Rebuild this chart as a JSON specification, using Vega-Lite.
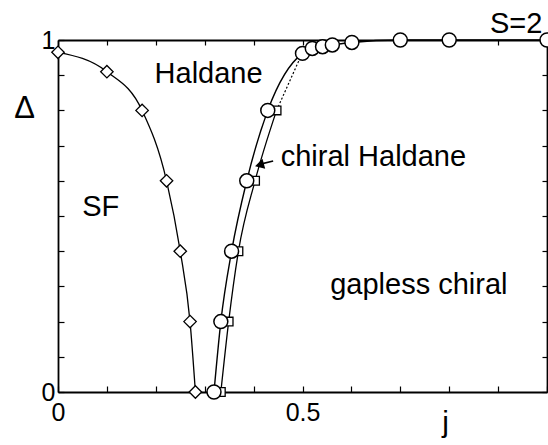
{
  "$schema": "https://vega.github.io/schema/vega-lite/v6.json",
  "width": 489,
  "height": 352,
  "autosize": {"type": "none"},
  "padding": {"left": 58, "top": 40, "right": 1, "bottom": 53},
  "background": "white",
  "config": {
    "view": {"stroke": null},
    "font": "Liberation Sans",
    "axis": {
      "grid": false,
      "domainColor": "black",
      "domainWidth": 1.8,
      "tickColor": "black",
      "tickWidth": 1.2,
      "labelColor": "black",
      "titleColor": "black",
      "labelFont": "Liberation Sans",
      "titleFont": "Liberation Sans",
      "labelFlush": false,
      "labelOverlap": false
    }
  },
  "datasets": {
    "curves": [
      {"series": "SF", "j": 0.0, "d": 0.965},
      {"series": "SF", "j": 0.1, "d": 0.91},
      {"series": "SF", "j": 0.172, "d": 0.8},
      {"series": "SF", "j": 0.222, "d": 0.6},
      {"series": "SF", "j": 0.25, "d": 0.4},
      {"series": "SF", "j": 0.27, "d": 0.2},
      {"series": "SF", "j": 0.281, "d": 0.0},
      {"series": "circle", "j": 0.319, "d": 0.0},
      {"series": "circle", "j": 0.333, "d": 0.2},
      {"series": "circle", "j": 0.355, "d": 0.4},
      {"series": "circle", "j": 0.386, "d": 0.6},
      {"series": "circle", "j": 0.429, "d": 0.8},
      {"series": "circle", "j": 0.5, "d": 0.962},
      {"series": "circle", "j": 0.52, "d": 0.976},
      {"series": "circle", "j": 0.541, "d": 0.981},
      {"series": "circle", "j": 0.561, "d": 0.986},
      {"series": "circle", "j": 0.601, "d": 0.993},
      {"series": "circle", "j": 0.7, "d": 1.0},
      {"series": "circle", "j": 0.8, "d": 1.0},
      {"series": "circle", "j": 1.0, "d": 1.0},
      {"series": "square", "j": 0.333, "d": 0.0},
      {"series": "square", "j": 0.349, "d": 0.2},
      {"series": "square", "j": 0.369, "d": 0.4},
      {"series": "square", "j": 0.403, "d": 0.6},
      {"series": "square", "j": 0.447, "d": 0.8},
      {"series": "dotted", "j": 0.447, "d": 0.8},
      {"series": "dotted", "j": 0.497, "d": 0.955}
    ],
    "labels": [
      {"text": "Haldane", "j": 0.308, "d": 0.878},
      {"text": "SF", "j": 0.0875, "d": 0.5},
      {"text": "chiral Haldane", "j": 0.645, "d": 0.642},
      {"text": "gapless chiral", "j": 0.738, "d": 0.279},
      {"text": "S=2", "j": 0.937, "d": 1.02}
    ],
    "arrow": [
      {"j": 0.44, "d": 0.656},
      {"j": 0.41, "d": 0.646}
    ],
    "arrowhead": [
      {"j": 0.412, "d": 0.645}
    ]
  },
  "layer": [
    {
      "data": {"name": "curves"},
      "transform": [{"filter": "datum.series == 'SF'"}],
      "mark": {"type": "line", "interpolate": "monotone", "color": "black", "strokeWidth": 1.3},
      "encoding": {
        "x": {
          "field": "j", "type": "quantitative",
          "scale": {"domain": [0, 1], "nice": false},
          "axis": {
            "orient": "bottom",
            "values": [0, 0.1, 0.2, 0.3, 0.4, 0.5, 0.6, 0.7, 0.8, 0.9, 1],
            "tickSize": -6,
            "labelExpr": "datum.value == 0 ? '0' : (datum.value == 0.5 ? '0.5' : '')",
            "labelFontSize": 25,
            "labelPadding": 14,
            "title": "j",
            "titleFontSize": 30,
            "titleFontWeight": "normal",
            "titleX": 387,
            "titleY": 15,
            "titleAlign": "center",
            "titleBaseline": "top"
          }
        },
        "y": {
          "field": "d", "type": "quantitative",
          "scale": {"domain": [0, 1], "nice": false},
          "axis": {
            "orient": "left",
            "values": [0, 0.1, 0.2, 0.3, 0.4, 0.5, 0.6, 0.7, 0.8, 0.9, 1],
            "tickSize": -6,
            "labelExpr": "datum.value == 0 ? '0' : (datum.value == 1 ? '1' : '')",
            "labelFontSize": 25,
            "labelPadding": 9,
            "title": "Δ",
            "titleAngle": 0,
            "titleFontSize": 31,
            "titleFontWeight": "normal",
            "titleX": -34,
            "titleY": 68,
            "titleAlign": "center",
            "titleBaseline": "middle"
          }
        }
      }
    },
    {
      "data": {"name": "curves"},
      "transform": [{"filter": "datum.series == 'circle'"}],
      "mark": {"type": "line", "interpolate": "monotone", "color": "black", "strokeWidth": 1.4},
      "encoding": {
        "x": {
          "field": "j", "type": "quantitative",
          "axis": {
            "orient": "top",
            "values": [0, 0.1, 0.2, 0.3, 0.4, 0.5, 0.6, 0.7, 0.8, 0.9, 1],
            "tickSize": -5,
            "labels": false,
            "title": null
          }
        },
        "y": {
          "field": "d", "type": "quantitative",
          "axis": {
            "orient": "right",
            "values": [0, 0.1, 0.2, 0.3, 0.4, 0.5, 0.6, 0.7, 0.8, 0.9, 1],
            "tickSize": -5,
            "labels": false,
            "title": null
          }
        }
      }
    },
    {
      "data": {"name": "curves"},
      "transform": [{"filter": "datum.series == 'square'"}],
      "mark": {"type": "line", "interpolate": "monotone", "color": "black", "strokeWidth": 1.3},
      "encoding": {
        "x": {"field": "j", "type": "quantitative", "axis": null},
        "y": {"field": "d", "type": "quantitative", "axis": null}
      }
    },
    {
      "data": {"name": "curves"},
      "transform": [{"filter": "datum.series == 'dotted'"}],
      "mark": {"type": "line", "color": "black", "strokeWidth": 1.2, "strokeDash": [2, 2]},
      "encoding": {
        "x": {"field": "j", "type": "quantitative", "axis": null},
        "y": {"field": "d", "type": "quantitative", "axis": null}
      }
    },
    {
      "data": {"name": "curves"},
      "transform": [{"filter": "datum.series == 'SF'"}],
      "mark": {"type": "point", "shape": "diamond", "size": 155, "filled": true, "fill": "white", "stroke": "black", "strokeWidth": 1.3, "opacity": 1},
      "encoding": {
        "x": {"field": "j", "type": "quantitative", "axis": null},
        "y": {"field": "d", "type": "quantitative", "axis": null}
      }
    },
    {
      "data": {"name": "curves"},
      "transform": [{"filter": "datum.series == 'square'"}],
      "mark": {"type": "point", "shape": "square", "size": 75, "filled": true, "fill": "white", "stroke": "black", "strokeWidth": 1.3, "opacity": 1},
      "encoding": {
        "x": {"field": "j", "type": "quantitative", "axis": null},
        "y": {"field": "d", "type": "quantitative", "axis": null}
      }
    },
    {
      "data": {"name": "curves"},
      "transform": [{"filter": "datum.series == 'circle'"}],
      "mark": {"type": "point", "shape": "circle", "size": 195, "filled": true, "fill": "white", "stroke": "black", "strokeWidth": 1.5, "opacity": 1},
      "encoding": {
        "x": {"field": "j", "type": "quantitative", "axis": null},
        "y": {"field": "d", "type": "quantitative", "axis": null}
      }
    },
    {
      "data": {"name": "arrow"},
      "mark": {"type": "line", "color": "black", "strokeWidth": 1.6},
      "encoding": {
        "x": {"field": "j", "type": "quantitative", "axis": null},
        "y": {"field": "d", "type": "quantitative", "axis": null}
      }
    },
    {
      "data": {"name": "arrowhead"},
      "mark": {"type": "point", "shape": "triangle-left", "angle": -15, "size": 110, "filled": true, "color": "black", "opacity": 1},
      "encoding": {
        "x": {"field": "j", "type": "quantitative", "axis": null},
        "y": {"field": "d", "type": "quantitative", "axis": null}
      }
    },
    {
      "data": {"name": "labels"},
      "mark": {"type": "text", "fontSize": 29, "font": "Liberation Sans", "color": "black", "baseline": "alphabetic", "align": "center"},
      "encoding": {
        "x": {"field": "j", "type": "quantitative", "axis": null},
        "y": {"field": "d", "type": "quantitative", "axis": null},
        "text": {"field": "text"}
      }
    }
  ],
  "resolve": {"axis": {"x": "independent", "y": "independent"}}
}
